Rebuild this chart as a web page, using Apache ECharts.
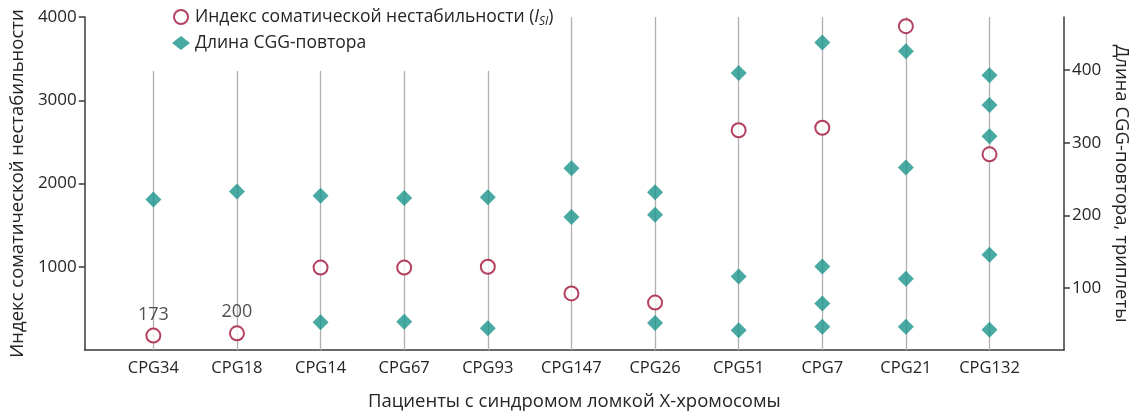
<!DOCTYPE html>
<html>
<head>
<meta charset="utf-8">
<script src="https://cdn.jsdelivr.net/npm/echarts@6/dist/echarts.min.js"></script>
<style>
  html, body { margin: 0; padding: 0; background: #fff; }
  #chart { width: 1139px; height: 416px; }
</style>
</head>
<body>
<div id="chart"></div>
<script>
// Patients (x-axis categories)
const patients = ['CPG34', 'CPG18', 'CPG14', 'CPG67', 'CPG93', 'CPG147', 'CPG26', 'CPG51', 'CPG7', 'CPG21', 'CPG132'];

// Somatic instability index, one value per patient
const isiValues = [173, 200, 990, 990, 1000, 680, 570, 2640, 2670, 3890, 2350];

// CGG repeat lengths (triplets); mosaic patients have several alleles
const cggValues = [
  [222],
  [233],
  [227, 53],
  [224, 54],
  [225, 45],
  [265, 198],
  [232, 201, 52],
  [396, 116, 42],
  [438, 130, 79, 47],
  [426, 266, 113, 47],
  [393, 352, 309, 146, 43]
];

// Values that carry a text label next to the marker
const labelledIsi = [173, 200];

const leftTicks = [1000, 2000, 3000, 4000];
const rightTicks = [100, 200, 300, 400];

const FONT = "'Open Sans', 'Noto Sans', sans-serif";
const TEXT = '#262424';
const AXIS = '#3a3a3a';

const positions = patients.map((p, i) => i + 1);

const isiData = isiValues.map((v, i) => ({
  value: [i + 1, v],
  label: labelledIsi.includes(v) ? {
    show: true, position: 'top', distance: 4,
    formatter: String(v), fontSize: 18, color: TEXT, fontFamily: FONT
  } : { show: false }
}));

const cggData = [];
cggValues.forEach((arr, i) => arr.forEach(v => cggData.push([i + 1, v])));

const chart = echarts.init(document.getElementById('chart'), null, { renderer: 'canvas' });

chart.setOption({
  animation: false,
  backgroundColor: '#fff',
  textStyle: { fontFamily: FONT },
  grid: { left: 84, right: 67, top: 17, bottom: 63, containLabel: false },
  legend: {
    orient: 'vertical',
    left: 142,
    top: 0,
    z: 50,
    padding: [6, 5, 19, 30],
    itemGap: 6,
    itemWidth: 18,
    itemHeight: 14,
    backgroundColor: '#fff',
    textStyle: {
      fontFamily: FONT, fontSize: 17.5, color: TEXT,
      rich: {
        t: { fontFamily: FONT, fontSize: 17.5, color: TEXT, lineHeight: 22 },
        i: { fontFamily: FONT, fontSize: 17.5, color: TEXT, fontStyle: 'italic', lineHeight: 22 },
        s: { fontFamily: FONT, fontSize: 12, color: TEXT, fontStyle: 'italic', lineHeight: 22, verticalAlign: 'bottom', padding: [10, 0, 0, 0] }
      }
    },
    formatter: function (name) {
      if (name === 'isi') return '{t|Индекс соматической нестабильности (}{i|I}{s|SI}{t|)}';
      return '{t|Длина CGG-повтора}';
    },
    data: ['isi', 'cgg']
  },
  xAxis: {
    type: 'value',
    min: 0.18,
    max: 11.89,
    name: 'Пациенты с синдромом ломкой Х-хромосомы',
    nameLocation: 'middle',
    nameGap: 42,
    nameTextStyle: { fontFamily: FONT, fontSize: 18.5, color: TEXT },
    axisLine: { show: true, onZero: false, lineStyle: { color: AXIS, width: 1.5 } },
    axisTick: { show: false },
    splitLine: { show: false },
    axisLabel: {
      customValues: positions,
      formatter: v => patients[Math.round(v) - 1] || '',
      fontFamily: FONT, fontSize: 16.5, color: TEXT, margin: 10
    }
  },
  yAxis: [
    {
      type: 'value',
      position: 'left',
      min: 0,
      max: 4000,
      name: 'Индекс соматической нестабильности',
      nameLocation: 'middle',
      nameGap: 54,
      nameTextStyle: { fontFamily: FONT, fontSize: 18.5, color: TEXT },
      axisLine: { show: true, lineStyle: { color: AXIS, width: 1.5 } },
      axisTick: { show: true, customValues: leftTicks, length: 6, lineStyle: { color: AXIS, width: 1.5 } },
      axisLabel: {
        customValues: leftTicks,
        formatter: v => String(v),
        fontFamily: FONT, fontSize: 17, color: TEXT, margin: 8
      },
      splitLine: { show: false }
    },
    {
      type: 'value',
      position: 'right',
      min: 15,
      max: 473,
      name: 'Длина CGG-повтора, триплеты',
      nameLocation: 'middle',
      nameRotate: -90,
      nameGap: 44,
      nameTextStyle: { fontFamily: FONT, fontSize: 18.5, color: TEXT },
      axisLine: { show: true, lineStyle: { color: AXIS, width: 1.5 } },
      axisTick: { show: true, customValues: rightTicks, length: 6, lineStyle: { color: AXIS, width: 1.5 } },
      axisLabel: {
        customValues: rightTicks,
        formatter: v => String(v),
        fontFamily: FONT, fontSize: 17, color: TEXT, margin: 8
      },
      splitLine: { show: false }
    }
  ],
  series: [
    {
      // vertical guide line for each patient
      name: 'guides',
      type: 'scatter',
      data: [],
      silent: true,
      z: 1,
      markLine: {
        silent: true,
        z: 1,
        symbol: ['none', 'none'],
        label: { show: false },
        lineStyle: { color: '#b0b0b0', width: 1.3, type: 'solid' },
        data: positions.map(x => ({ xAxis: x }))
      }
    },
    {
      name: 'cgg',
      type: 'scatter',
      yAxisIndex: 1,
      symbol: 'diamond',
      symbolSize: 16,
      itemStyle: { color: '#1a958b' },
      data: cggData,
      z: 3
    },
    {
      name: 'isi',
      type: 'scatter',
      yAxisIndex: 0,
      symbol: 'circle',
      symbolSize: 14,
      itemStyle: { color: '#ffffff', borderColor: '#a3113a', borderWidth: 2 },
      data: isiData,
      z: 4
    }
  ]
});
</script>
</body>
</html>
